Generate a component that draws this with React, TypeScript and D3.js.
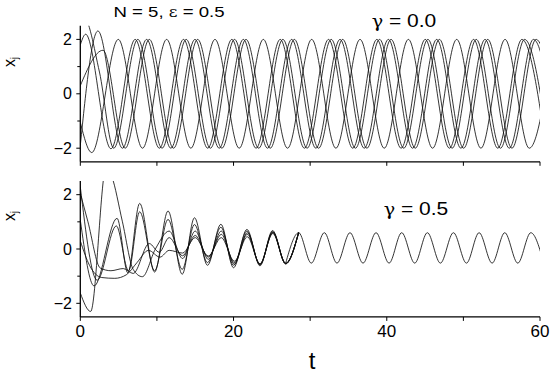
import React from 'react';
import * as d3 from 'd3';

type Pt = [number, number];

// extrema (t, x_j); the curve passes through them
// upper panel, gamma = 0.0
const topSingle: Pt[] = [[0, -1.05], [1.5, -2.16], [4.96, 2], [8.12, -2], [11.27, 2], [14.43, -2], [17.58, 2], [20.74, -2], [23.89, 2], [27.05, -2], [30.2, 2], [33.36, -2], [36.51, 2], [39.67, -2], [42.82, 2], [45.98, -2], [49.13, 2], [52.29, -2], [55.44, 2], [58.6, -2], [61.75, 2]];
const topPair1a: Pt[] = [[0, 1.8], [0.7, 2.19], [4.0, -2.02], [7.16, 2], [10.32, -2], [13.47, 2], [16.63, -2], [19.78, 2], [22.94, -2], [26.09, 2], [29.25, -2], [32.4, 2], [35.56, -2], [38.71, 2], [41.87, -2], [45.02, 2], [48.18, -2], [51.33, 2], [54.49, -2], [57.64, 2], [60.8, -2]];
const topPair1b: Pt[] = [[0, 2.7], [0.4, 2.85], [2.5, 0.8], [4.36, -2], [7.51, 2], [10.67, -2], [13.82, 2], [16.98, -2], [20.13, 2], [23.29, -2], [26.44, 2], [29.6, -2], [32.75, 2], [35.91, -2], [39.06, 2], [42.22, -2], [45.37, 2], [48.53, -2], [51.68, 2], [54.84, -2], [57.99, 2], [61.15, -2]];
const topPair2a: Pt[] = [[0, -1.9], [2.3, 2.31], [5.5, -2], [8.66, 2], [11.82, -2], [14.97, 2], [18.13, -2], [21.28, 2], [24.44, -2], [27.59, 2], [30.75, -2], [33.9, 2], [37.06, -2], [40.21, 2], [43.37, -2], [46.52, 2], [49.68, -2], [52.83, 2], [55.99, -2], [59.14, 2], [62.3, -2]];
const topPair2b: Pt[] = [[0, 0.3], [2.96, 1.6], [5.86, -2], [9.01, 2], [12.17, -2], [15.32, 2], [18.48, -2], [21.63, 2], [24.79, -2], [27.94, 2], [31.1, -2], [34.25, 2], [37.41, -2], [40.56, 2], [43.72, -2], [46.87, 2], [50.03, -2], [53.18, 2], [56.34, -2], [59.49, 2], [62.65, -2]];

// lower panel, gamma = 0.5 : transients, then one common synchronised tail
const botL1: Pt[] = [[0, 2.29], [2.2, -1.15], [4.7, 0.85], [6.3, -0.8], [7.75, 1.37], [9.7, -0.8], [11.45, 1.09], [13.3, -0.75], [14.9, 0.9], [16.6, -0.5], [18.35, 0.8], [20.0, -0.6], [21.75, 0.66], [23.45, -0.57], [25.1, 0.63], [26.8, -0.53], [28.5, 0.61]];
const botL2: Pt[] = [[0, 1.07], [1.8, -1.36], [4.8, 1.13], [6.2, -0.88], [7.75, 1.68], [9.7, -0.85], [11.45, 1.4], [13.3, -0.93], [14.9, 1.15], [16.6, -0.6], [18.35, 0.91], [20.0, -0.69], [21.75, 0.72], [23.45, -0.62], [25.1, 0.68], [26.8, -0.55], [28.5, 0.62]];
const botL3: Pt[] = [[0, 2.05], [1.0, 1.0], [2.6, -0.7], [4.0, -0.8], [5.6, -0.72], [6.9, -0.9], [9.0, 0.2], [10.3, -0.12], [11.6, 0.42], [13.35, -0.25], [15.0, 0.5], [16.7, -0.3], [18.4, 0.54], [20.1, -0.5], [21.8, 0.54], [23.45, -0.56], [25.13, 0.6], [26.8, -0.52], [28.5, 0.59]];
const botL4: Pt[] = [[0, -1.62], [1.35, -2.3], [3.4, 3.05], [4.1, 2.68], [5.5, 1.0], [6.9, -0.75], [8.1, -1.02], [9.8, 0.0], [11.6, 0.66], [13.35, -0.35], [15.0, 0.66], [16.7, -0.38], [18.4, 0.66], [20.1, -0.56], [21.8, 0.6], [23.45, -0.58], [25.13, 0.63], [26.8, -0.54], [28.5, 0.6]];
const botL5: Pt[] = [[0, 0.3], [1.2, -0.6], [2.8, -1.05], [4.5, -1.08], [6.0, -0.95], [7.4, -0.5], [8.9, -0.05], [10.4, -0.3], [11.6, -0.05], [13.35, -0.15], [15.0, 0.42], [16.7, -0.26], [18.4, 0.42], [20.1, -0.45], [21.8, 0.45], [23.45, -0.54], [25.13, 0.57], [26.8, -0.54], [28.5, 0.6]];
const syncTail: Pt[] = [[26.8, -0.53], [28.5, 0.6], [30.15, -0.52], [31.85, 0.6], [33.5, -0.52], [35.2, 0.6], [36.9, -0.52], [38.6, 0.6], [40.3, -0.52], [41.95, 0.6], [43.65, -0.52], [45.3, 0.6], [47.0, -0.52], [48.7, 0.6], [50.4, -0.52], [52.05, 0.6], [53.75, -0.52], [55.4, 0.6], [57.1, -0.52], [58.8, 0.6], [60.5, -0.52]];

const xTicks = [0, 10, 20, 30, 40, 50, 60];
const xLabels = [0, 20, 40, 60];
const yTicks = [-2, -1, 0, 1, 2];
const yLabels = [-2, 0, 2];

const FONT = 'Arial, "Liberation Sans", sans-serif';
const GREEK = '"DejaVu Serif", "Liberation Serif", serif';

const x = d3.scaleLinear().domain([0, 60]).range([80.3, 540]);

const fmt = (v: number) => (v < 0 ? '\u2212' + Math.abs(v) : String(v));

function Panel({ id, y, lines, showLabels }: { id: string; y: d3.ScaleLinear<number, number>; lines: Pt[][]; showLabels: boolean }) {
  const line = d3.line<Pt>().x(d => x(d[0])).y(d => y(d[1])).curve(d3.curveMonotoneX);
  const [y0, y1] = y.range();
  const x0 = x(0);
  const x1 = x(60);
  return (
    <g>
      <defs>
        <clipPath id={id}>
          <rect x={x0} y={y1} width={x1 - x0} height={y0 - y1} />
        </clipPath>
      </defs>
      <g clipPath={`url(#${id})`}>
        {lines.map((l, i) => (
          <path key={i} d={line(l) || ''} fill="none" stroke="#111" strokeWidth={0.85} />
        ))}
      </g>
      <line x1={x0} x2={x0} y1={y1} y2={y0} stroke="#000" strokeWidth={1.3} />
      <line x1={x0} x2={x1} y1={y0} y2={y0} stroke="#000" strokeWidth={1.3} />
      {xTicks.map(t => (
        <line key={t} x1={x(t)} x2={x(t)} y1={y0} y2={y0 + 4} stroke="#000" strokeWidth={1} />
      ))}
      {yTicks.map(v => (
        <line key={v} x1={x0} x2={x0 - (v % 2 === 0 ? 4 : 3)} y1={y(v)} y2={y(v)} stroke="#000" strokeWidth={1} />
      ))}
      {yLabels.map(v => (
        <text key={v} x={72} y={y(v)} dy="0.35em" textAnchor="end" fontSize={16} fontFamily={FONT}>{fmt(v)}</text>
      ))}
      {showLabels && xLabels.map(t => (
        <text key={t} x={x(t)} y={337} textAnchor="middle" fontSize={17} fontFamily={FONT}>{t}</text>
      ))}
    </g>
  );
}

export default function App() {
  const yTop = d3.scaleLinear().domain([-2.5, 2.5]).range([161.8, 25.8]);
  const yBot = d3.scaleLinear().domain([-2.5, 2.5]).range([316.9, 181.1]);
  const topLines = [topSingle, topPair1a, topPair1b, topPair2a, topPair2b];
  const botLines = [botL1, botL2, botL3, botL4, botL5, syncTail];
  return (
    <svg width={550} height={376} style={{ position: 'absolute', left: 0, top: 0, background: '#fff' }}>
      <rect width={550} height={376} fill="#fff" />
      <Panel id="clipTop" y={yTop} lines={topLines} showLabels={false} />
      <Panel id="clipBot" y={yBot} lines={botLines} showLabels={true} />
      <text transform="translate(169,17) scale(1.2,1)" textAnchor="middle" fontSize={15.5} fontFamily={FONT}>N = 5, <tspan fontFamily={GREEK} fontSize={14}>ε</tspan> = 0.5</text>
      <text transform="translate(404,27) scale(1.2,1)" textAnchor="middle" fontSize={17.5} fontFamily={FONT}><tspan fontFamily={GREEK} fontSize={16}>γ</tspan> = 0.0</text>
      <text transform="translate(416,215) scale(1.2,1)" textAnchor="middle" fontSize={17.5} fontFamily={FONT}><tspan fontFamily={GREEK} fontSize={16}>γ</tspan> = 0.5</text>
      <text x={312} y={369} textAnchor="middle" fontSize={24} fontFamily={FONT}>t</text>
      <text transform="translate(15,62) rotate(-90)" textAnchor="middle" fontSize={16} fontFamily={FONT}>x<tspan dy={3} fontSize={10}>j</tspan></text>
      <text transform="translate(15,216) rotate(-90)" textAnchor="middle" fontSize={16} fontFamily={FONT}>x<tspan dy={3} fontSize={10}>j</tspan></text>
    </svg>
  );
}
